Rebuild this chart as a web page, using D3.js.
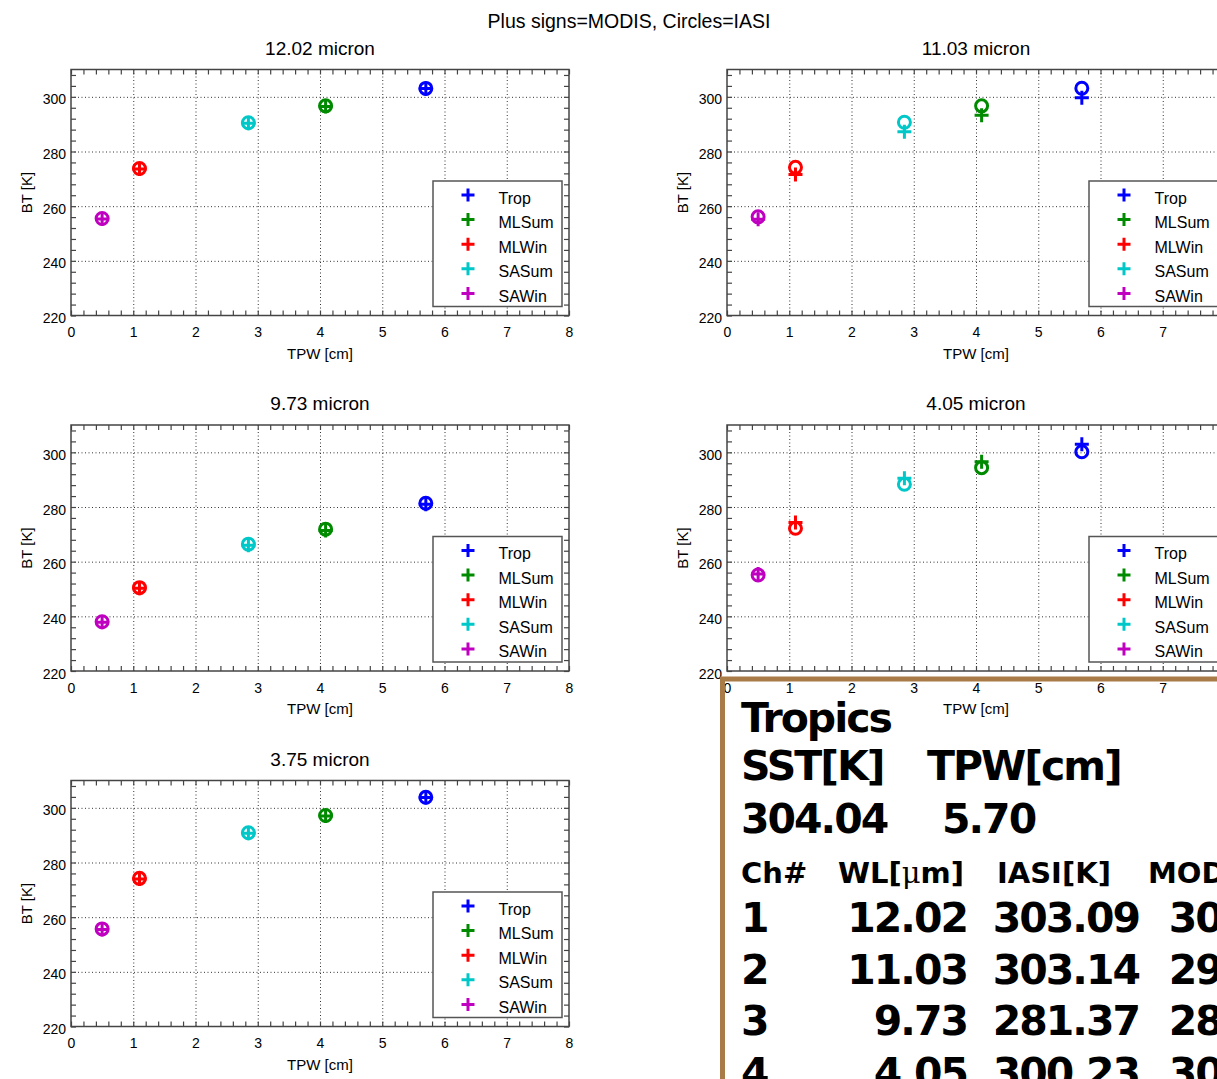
<!DOCTYPE html>
<html>
<head>
<meta charset="utf-8">
<script src="https://cdn.jsdelivr.net/npm/d3@7"></script>
<style>
  body { margin: 0; background: #fff; }
  svg text { font-family: "Liberation Sans", Arial, sans-serif; fill: #000; }
  .tbl text { font-family: "DejaVu Sans", Verdana, sans-serif; font-weight: bold; }
</style>
</head>
<body>
<div id="myDataVis"></div>
<script>
// region names, colours and their total precipitable water
const regions = ["Trop", "MLSum", "MLWin", "SASum", "SAWin"];
const regionColors = ["#0000ff", "#008a00", "#ff0000", "#00c8c8", "#c000c0"];
const tpw = [5.70, 4.09, 1.10, 2.85, 0.50];

// channel wavelengths (micron), one panel each
const wavelengths = ["12.02", "11.03", "9.73", "4.05", "3.75"];

// brightness temperatures [K], rows = channel, cols = region
const iasiBT = [
    [303.09, 296.7, 273.8, 290.5, 255.5],
    [303.14, 296.7, 274.2, 290.7, 256.1],
    [281.37, 271.9, 250.5, 266.4, 238.0],
    [300.23, 294.4, 272.2, 288.3, 255.1],
    [303.85, 297.2, 274.2, 290.9, 255.7]
];
const modisBT = [
    [303.02, 296.5, 273.6, 290.3, 255.3],
    [299.62, 293.3, 271.6, 287.2, 255.2],
    [281.02, 271.4, 250.3, 266.0, 237.8],
    [302.95, 296.6, 274.3, 290.5, 255.5],
    [303.80, 297.0, 274.0, 290.7, 255.5]
];

const xTicks = [0, 1, 2, 3, 4, 5, 6, 7, 8];
const yTicks = [220, 240, 260, 280, 300];

// tropics summary shown in the text box
const sstTrop = "304.04";
const tpwTrop = "5.70";
const channels = ["1", "2", "3", "4", "5"];

let svg;
const plotW = 498, plotH = 246;
const colX = [71, 727];
const rowY = [69.5, 425, 780.5];

document.addEventListener('DOMContentLoaded', function () {
    svg = d3.select("#myDataVis")
        .append("svg")
        .attr("width", 1217)
        .attr("height", 1079);

    svg.append("text")
        .attr("x", 629)
        .attr("y", 28)
        .attr("text-anchor", "middle")
        .style("font-size", "19.5px")
        .text("Plus signs=MODIS, Circles=IASI");

    wavelengths.forEach((wl, i) => drawPanel(i));
    drawTable();
});

function drawPanel(i) {
    const g = svg.append("g")
        .attr("transform", `translate(${colX[i % 2]},${rowY[Math.floor(i / 2)]})`);

    const x = d3.scaleLinear().domain([0, 8]).range([0, plotW]);
    const y = d3.scaleLinear().domain([220, 310]).range([plotH, 0]);

    // dotted grid at the major ticks
    g.append("g")
        .attr("class", "grid")
        .attr("transform", `translate(0,${plotH})`)
        .call(d3.axisBottom(x).tickValues(xTicks.slice(1, -1)).tickSize(-plotH).tickFormat(""));
    g.append("g")
        .attr("class", "grid")
        .call(d3.axisLeft(y).tickValues(yTicks.slice(1)).tickSize(-plotW).tickFormat(""));
    g.selectAll(".grid .domain").remove();
    g.selectAll(".grid line")
        .attr("stroke", "#333")
        .attr("stroke-width", 1)
        .attr("stroke-dasharray", "1,2.5");

    // minor ticks on all four sides, pointing inwards
    const xMinor = d3.range(0, 8.001, 0.2);
    const yMinor = d3.range(220, 310.001, 4);
    const ticks = g.append("g").attr("class", "minor");
    ticks.append("g").attr("transform", `translate(0,${plotH})`)
        .call(d3.axisBottom(x).tickValues(xMinor).tickSize(-5).tickFormat(""));
    ticks.append("g")
        .call(d3.axisTop(x).tickValues(xMinor).tickSize(-5).tickFormat(""));
    ticks.append("g")
        .call(d3.axisLeft(y).tickValues(yMinor).tickSize(-5).tickFormat(""));
    ticks.append("g").attr("transform", `translate(${plotW},0)`)
        .call(d3.axisRight(y).tickValues(yMinor).tickSize(-5).tickFormat(""));
    ticks.selectAll(".domain").remove();
    ticks.selectAll("line").attr("stroke", "#444").attr("stroke-width", 1.2);

    // tick labels
    const xAxis = g.append("g")
        .attr("transform", `translate(0,${plotH})`)
        .call(d3.axisBottom(x).tickValues(xTicks).tickSize(0).tickPadding(12).tickFormat(d3.format("d")));
    const yAxis = g.append("g")
        .call(d3.axisLeft(y).tickValues(yTicks).tickSize(0).tickPadding(5));
    [xAxis, yAxis].forEach(a => {
        a.select(".domain").remove();
        a.selectAll("text")
            .attr("fill", "#000")
            .style("font-family", "Liberation Sans, Arial, sans-serif")
            .style("font-size", "14px");
    });
    yAxis.selectAll("text").attr("dy", "0.5em");

    // frame
    g.append("rect")
        .attr("width", plotW)
        .attr("height", plotH)
        .attr("fill", "none")
        .attr("stroke", "#444")
        .attr("stroke-width", 1.5);

    // labels
    g.append("text")
        .attr("x", plotW / 2)
        .attr("y", -15)
        .attr("text-anchor", "middle")
        .style("font-size", "19px")
        .text(wavelengths[i] + " micron");

    g.append("text")
        .attr("x", plotW / 2)
        .attr("y", plotH + 43)
        .attr("text-anchor", "middle")
        .style("font-size", "15px")
        .text("TPW [cm]");

    g.append("text")
        .attr("transform", `translate(-39,${plotH / 2}) rotate(-90)`)
        .attr("text-anchor", "middle")
        .style("font-size", "15px")
        .text("BT [K]");

    // MODIS plus signs
    const pts = regions.map((r, j) => ({ tpw: tpw[j], iasi: iasiBT[i][j], modis: modisBT[i][j], color: regionColors[j] }));

    g.selectAll(".plus")
        .data(pts)
        .enter()
        .append("path")
        .attr("class", "plus")
        .attr("transform", d => `translate(${x(d.tpw)},${y(d.modis)})`)
        .attr("d", "M-7,0H7M0,-7V7")
        .attr("stroke", d => d.color)
        .attr("stroke-width", 3)
        .attr("fill", "none");

    // IASI circles
    g.selectAll(".circ")
        .data(pts)
        .enter()
        .append("circle")
        .attr("class", "circ")
        .attr("cx", d => x(d.tpw))
        .attr("cy", d => y(d.iasi))
        .attr("r", 6)
        .attr("fill", "none")
        .attr("stroke", d => d.color)
        .attr("stroke-width", 3);

    // legend
    const legend = g.append("g")
        .attr("transform", `translate(362,111.5)`);

    legend.append("rect")
        .attr("width", 129)
        .attr("height", 125.5)
        .attr("fill", "#fff")
        .attr("stroke", "#555")
        .attr("stroke-width", 1.5);

    regions.forEach((r, j) => {
        const ly = 14 + j * 24.6;
        legend.append("path")
            .attr("transform", `translate(35,${ly})`)
            .attr("d", "M-6.5,0H6.5M0,-6.5V6.5")
            .attr("stroke", regionColors[j])
            .attr("stroke-width", 3);
        legend.append("text")
            .attr("x", 65.5)
            .attr("y", ly + 8.5)
            .style("font-size", "16px")
            .text(r);
    });
}

function drawTable() {
    const t = svg.append("g").attr("class", "tbl");

    const big = (txt, x, y, anchor) => t.append("text")
        .attr("x", x)
        .attr("y", y)
        .attr("text-anchor", anchor || "start")
        .style("font-size", "41px")
        .style("letter-spacing", "-2px")
        .text(txt);

    big("Tropics", 741, 732);
    big("SST[K]", 741, 780);
    big("TPW[cm]", 927, 780);
    big(sstTrop, 741, 833);
    big(tpwTrop, 942, 833);

    const head = [["Ch#", 741], ["WL[", 838], ["IASI[K]", 997], ["MODIS[K]", 1148]];
    head.forEach(h => {
        const tx = t.append("text")
            .attr("x", h[1])
            .attr("y", 883)
            .style("font-size", "29px");
        if (h[0] === "WL[") {
            tx.append("tspan").text("WL[");
            tx.append("tspan").style("font-weight", "normal").style("font-family", "DejaVu Serif, serif").text("\u03bc");
            tx.append("tspan").text("m]");
        } else {
            tx.text(h[0]);
        }
    });

    channels.forEach((c, i) => {
        const by = 932 + i * 51.7;
        big(c, 741, by);
        big(wavelengths[i], 967, by, "end");
        big(iasiBT[i][0].toFixed(2), 1139, by, "end");
        big(modisBT[i][0].toFixed(2), 1315, by, "end");
    });

    // brown frame round the text box
    t.append("rect")
        .attr("x", 722.5)
        .attr("y", 679)
        .attr("width", 600)
        .attr("height", 500)
        .attr("fill", "none")
        .attr("stroke", "#a87b47")
        .attr("stroke-width", 5);
}
</script>
</body>
</html>
